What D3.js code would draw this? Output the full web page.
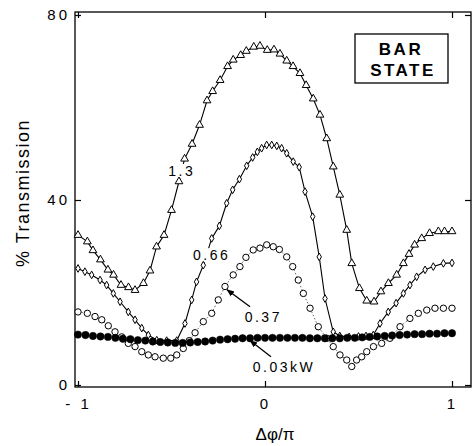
<!DOCTYPE html>
<html>
<head>
<meta charset="utf-8">
<script src="https://cdnjs.cloudflare.com/ajax/libs/d3/7.8.5/d3.min.js"></script>
<style>
    body { margin: 0; background: #fff; }
    svg { display: block; font-family: "Liberation Sans", Arial, sans-serif; }
</style>
</head>
<body>
<div id="chart"></div>
<script>
// axis ticks
const xTicks = [-1, 0, 1];
const xTickLabels = ["- 1", "0", "1"];
const yTicks = [0, 40, 80];

// curve names (power)
const seriesNames = ["1.3", "0.66", "0.37", "0.03kW"];

// 1.3 kW, triangles
const phase13 = [-1.0, -0.95, -0.92, -0.88, -0.84, -0.81, -0.77, -0.73, -0.695, -0.65, -0.615, -0.58, -0.54, -0.5, -0.46,
    -0.43, -0.39, -0.35, -0.31, -0.28, -0.24, -0.2, -0.17, -0.13, -0.1, -0.06, -0.027, 0.012, 0.048, 0.08, 0.116, 0.15,
    0.187, 0.22, 0.258, 0.294, 0.33, 0.365, 0.4, 0.437, 0.464, 0.505, 0.544, 0.583, 0.62, 0.66, 0.704, 0.74, 0.77, 0.8,
    0.838, 0.88, 0.927, 0.96, 1.0];
const trans13 = [32.4, 31.0, 29.1, 27.1, 24.9, 23.8, 21.6, 21.1, 20.5, 22.0, 24.7, 29.9, 32.4, 37.8, 44.0,
    48.9, 52.1, 56.2, 61.5, 63.5, 65.9, 68.9, 70.3, 71.3, 72.2, 73.1, 73.3, 72.4, 72.5, 71.6, 70.1, 68.9,
    67.4, 64.8, 61.9, 58.4, 53.3, 47.2, 41.1, 33.5, 26.3, 20.9, 18.2, 18.0, 20.2, 22.0, 23.8, 26.3, 28.3, 30.3,
    31.7, 32.8, 33.2, 33.2, 33.2];

// 0.66 kW, diamonds
const phase066 = [-1.0, -0.963, -0.927, -0.882, -0.847, -0.811, -0.775, -0.731, -0.695, -0.659, -0.624, -0.579, -0.526,
    -0.472, -0.428, -0.392, -0.366, -0.33, -0.285, -0.244, -0.205, -0.173, -0.137, -0.098, -0.066, -0.041, -0.018, 0.009,
    0.036, 0.063, 0.089, 0.116, 0.151, 0.183, 0.214, 0.255, 0.29, 0.321, 0.365, 0.4, 0.45, 0.5, 0.54, 0.579, 0.615,
    0.659, 0.701, 0.74, 0.775, 0.811, 0.856, 0.9, 0.954, 1.0];
const trans066 = [25.2, 24.5, 23.8, 22.7, 21.6, 19.8, 18.0, 15.8, 14.1, 12.3, 10.8, 9.7, 9.6,
    9.6, 13.3, 18.4, 22.3, 25.9, 31.7, 34.4, 39.3, 42.2, 44.5, 47.4, 49.2, 50.4, 51.2, 51.9,
    51.9, 51.7, 51.2, 50.1, 48.3, 47.1, 41.8, 36.4, 27.7, 18.7, 11.5, 10.6, 10.4, 10.5, 10.6, 10.8, 13.3,
    15.8, 17.7, 19.8, 21.6, 23.4, 24.9, 25.6, 26.3, 26.4];

// 0.37 kW, open circles
const phase037 = [-1.0, -0.95, -0.909, -0.873, -0.838, -0.802, -0.766, -0.731, -0.695, -0.659, -0.624, -0.588, -0.544,
    -0.504, -0.472, -0.437, -0.405, -0.374, -0.33, -0.285, -0.25, -0.214, -0.17, -0.134, -0.102, -0.063, -0.027, 0.009,
    0.044, 0.077, 0.116, 0.148, 0.178, 0.205, 0.241, 0.285, 0.33, 0.365, 0.401, 0.437, 0.464, 0.49, 0.517, 0.544, 0.58,
    0.624, 0.668, 0.722, 0.775, 0.82, 0.865, 0.909, 0.954, 1.0];
const trans037 = [15.8, 15.5, 14.8, 14.1, 12.8, 11.5, 10.4, 9.0, 8.3, 7.2, 6.5, 6.1, 5.8,
    5.8, 6.5, 7.9, 9.6, 11.3, 13.7, 15.5, 18.4, 21.3, 23.8, 25.6, 27.6, 29.2, 29.6, 30.3,
    29.9, 29.3, 27.7, 25.6, 22.7, 19.8, 16.6, 12.6, 10.1, 8.3, 6.5, 5.4, 4.0, 5.4, 6.1, 7.2, 8.3,
    9.0, 10.1, 12.6, 14.4, 15.5, 16.2, 16.6, 16.6, 16.6];

// 0.03 kW, filled circles
const phase003 = [-1, -0.96, -0.92, -0.88, -0.84, -0.8, -0.76, -0.72, -0.68, -0.64, -0.6, -0.56, -0.52, -0.48, -0.44,
    -0.4, -0.36, -0.32, -0.28, -0.24, -0.2, -0.16, -0.12, -0.08, -0.04, 0, 0.04, 0.08, 0.12, 0.16, 0.2, 0.24, 0.28,
    0.32, 0.36, 0.4, 0.44, 0.48, 0.52, 0.56, 0.6, 0.64, 0.68, 0.72, 0.76, 0.8, 0.84, 0.88, 0.92, 0.96, 1];
const trans003 = [10.9, 10.8, 10.6, 10.5, 10.4, 10.2, 10.0, 9.9, 9.7, 9.6, 9.4, 9.3, 9.2, 9.1, 9.1,
    9.2, 9.3, 9.4, 9.6, 9.8, 9.9, 10.0, 10.1, 10.1, 10.2, 10.2, 10.2, 10.2, 10.2, 10.2, 10.2, 10.1, 10.1,
    10.1, 10.1, 10.1, 10.2, 10.2, 10.3, 10.4, 10.5, 10.6, 10.7, 10.8, 10.9, 11.0, 11.0, 11.1, 11.1, 11.2, 11.2];

class TransmissionPlot {
    constructor(w, h) {
        this.size = { width: w, height: h };
        this.frame = { left: 75, right: 471, top: 12, bottom: 387 };

        this.x = d3.scaleLinear().domain([-1, 1]).range([78, 452]);
        this.y = d3.scaleLinear().domain([0, 80]).range([385, 15]);

        const zip = (xs, ys) => xs.map((v, i) => ({ x: v, y: ys[i] }));
        this.series = [
            { name: seriesNames[0], pts: zip(phase13, trans13), line: "solid", mark: "triangle" },
            { name: seriesNames[1], pts: zip(phase066, trans066), line: "solid", mark: "diamond" },
            { name: seriesNames[2], pts: zip(phase037, trans037), line: "dotted", mark: "open" },
            { name: seriesNames[3], pts: zip(phase003, trans003), line: "none", mark: "filled" }
        ];

        // where the curve labels sit, in data units (baseline centre)
        this.labelPos = [
            { x: -0.445, y: 45.2 },
            { x: -0.285, y: 27.0 },
            { x: -0.009, y: 13.7 },
            { x: 0.102, y: 2.9 }
        ];
        this.arrows = [
            { from: [-0.08, 16.9], to: [-0.203, 20.6] },
            { from: [0.032, 6.1], to: [-0.08, 9.6] }
        ];

        this.initSvg();
        this.drawAxes();
        this.drawSeries();
        this.drawNotes();
    }

    initSvg() {
        this.svg = d3.select("#chart").append("svg")
            .attr("width", this.size.width)
            .attr("height", this.size.height);

        this.svg.append("defs").append("marker")
            .attr("id", "arrowhead")
            .attr("viewBox", "0 0 10 10")
            .attr("refX", 9)
            .attr("refY", 5)
            .attr("markerWidth", 6)
            .attr("markerHeight", 6)
            .attr("orient", "auto")
            .append("path")
            .attr("d", "M0,1L10,5L0,9z")
            .attr("fill", "#000");
    }

    drawAxes() {
        const f = this.frame;

        this.svg.append("rect")
            .attr("x", f.left)
            .attr("y", f.top)
            .attr("width", f.right - f.left)
            .attr("height", f.bottom - f.top)
            .attr("fill", "none")
            .attr("stroke", "#000")
            .attr("stroke-width", 1.3);

        const bottom = this.svg.append("g")
            .attr("transform", `translate(0,${f.bottom})`)
            .call(d3.axisBottom(this.x).tickValues(xTicks)
                .tickFormat((d, i) => xTickLabels[i]).tickSize(-6).tickPadding(11));
        const top = this.svg.append("g")
            .attr("transform", `translate(0,${f.top})`)
            .call(d3.axisTop(this.x).tickValues(xTicks).tickFormat("").tickSize(-6));
        const left = this.svg.append("g")
            .attr("transform", `translate(${f.left},0)`)
            .call(d3.axisLeft(this.y).tickValues(yTicks).tickSize(-6).tickPadding(5));
        const right = this.svg.append("g")
            .attr("transform", `translate(${f.right},0)`)
            .call(d3.axisRight(this.y).tickValues(yTicks).tickFormat("").tickSize(-6));

        [bottom, top, left, right].forEach(g => {
            g.select(".domain").remove();
            g.selectAll(".tick line").attr("stroke", "#000").attr("stroke-width", 1.2);
            g.selectAll("text")
                .attr("fill", "#000")
                .style("font-family", "'Liberation Sans', Arial, sans-serif")
                .style("font-size", "15px")
                .style("letter-spacing", "3px");
        });

        this.svg.append("text")
            .attr("transform", "translate(29,193) rotate(-90)")
            .attr("text-anchor", "middle")
            .style("font-size", "18px")
            .style("letter-spacing", "1.5px")
            .text("% Transmission");

        this.svg.append("text")
            .attr("x", 275)
            .attr("y", 440)
            .attr("text-anchor", "middle")
            .style("font-size", "17px")
            .text("Δφ/π");
    }

    drawSeries() {
        const line = d3.line().x(d => this.x(d.x)).y(d => this.y(d.y));

        this.lineLayer = this.svg.append("g");
        this.labelLayer = this.svg.append("g");
        this.markLayer = this.svg.append("g");

        this.series.filter(s => s.line !== "none").forEach(s => {
            this.lineLayer.append("path")
                .datum(s.pts)
                .attr("d", line)
                .attr("fill", "none")
                .attr("stroke", s.line === "dotted" ? "#555" : "#000")
                .attr("stroke-width", s.line === "dotted" ? 0.9 : 1.1)
                .attr("stroke-dasharray", s.line === "dotted" ? "1.5,2" : null);
        });

        // labels sit between the lines and the markers so they cut the lines
        this.series.forEach((s, i) => {
            const g = this.labelLayer.append("g");
            const bg = g.append("rect").attr("fill", "#fff");
            const t = g.append("text")
                .attr("x", this.x(this.labelPos[i].x))
                .attr("y", this.y(this.labelPos[i].y))
                .attr("text-anchor", "middle")
                .style("font-size", "14px")
                .style("letter-spacing", "2.5px")
                .text(s.name);
            const b = t.node().getBBox();
            bg.attr("x", b.x - 1).attr("y", b.y + 1)
                .attr("width", b.width + 1).attr("height", b.height - 2);
        });

        const shapes = {
            triangle: d3.symbol().type(d3.symbolTriangle).size(26),
            diamond: d3.symbol().type(d3.symbolDiamond).size(17)
        };

        this.series.forEach(s => {
            const g = this.markLayer.append("g");
            if (s.mark === "triangle" || s.mark === "diamond") {
                g.selectAll("path")
                    .data(s.pts)
                    .enter()
                    .append("path")
                    .attr("transform", d => `translate(${this.x(d.x)},${this.y(d.y)})`)
                    .attr("d", shapes[s.mark])
                    .attr("fill", "#fff")
                    .attr("stroke", "#000")
                    .attr("stroke-width", 1);
            } else {
                g.selectAll("circle")
                    .data(s.pts)
                    .enter()
                    .append("circle")
                    .attr("cx", d => this.x(d.x))
                    .attr("cy", d => this.y(d.y))
                    .attr("r", s.mark === "filled" ? 3.7 : 3.2)
                    .attr("fill", s.mark === "filled" ? "#000" : "#fff")
                    .attr("stroke", "#000")
                    .attr("stroke-width", s.mark === "filled" ? 0.5 : 1);
            }
        });
    }

    drawNotes() {
        this.arrows.forEach(a => {
            this.svg.append("line")
                .attr("x1", this.x(a.from[0]))
                .attr("y1", this.y(a.from[1]))
                .attr("x2", this.x(a.to[0]))
                .attr("y2", this.y(a.to[1]))
                .attr("stroke", "#000")
                .attr("stroke-width", 1.3)
                .attr("marker-end", "url(#arrowhead)");
        });

        const box = this.svg.append("g");
        box.append("rect")
            .attr("x", 355)
            .attr("y", 34)
            .attr("width", 93)
            .attr("height", 49)
            .attr("fill", "#fff")
            .attr("stroke", "#000")
            .attr("stroke-width", 1.3);
        box.append("text")
            .attr("x", 401)
            .attr("y", 55)
            .attr("text-anchor", "middle")
            .style("font-size", "17px")
            .style("font-weight", "bold")
            .style("letter-spacing", "2.5px")
            .text("BAR");
        box.append("text")
            .attr("x", 403)
            .attr("y", 76)
            .attr("text-anchor", "middle")
            .style("font-size", "17px")
            .style("font-weight", "bold")
            .style("letter-spacing", "2.5px")
            .text("STATE");
    }
}

new TransmissionPlot(472, 446);
</script>
</body>
</html>
